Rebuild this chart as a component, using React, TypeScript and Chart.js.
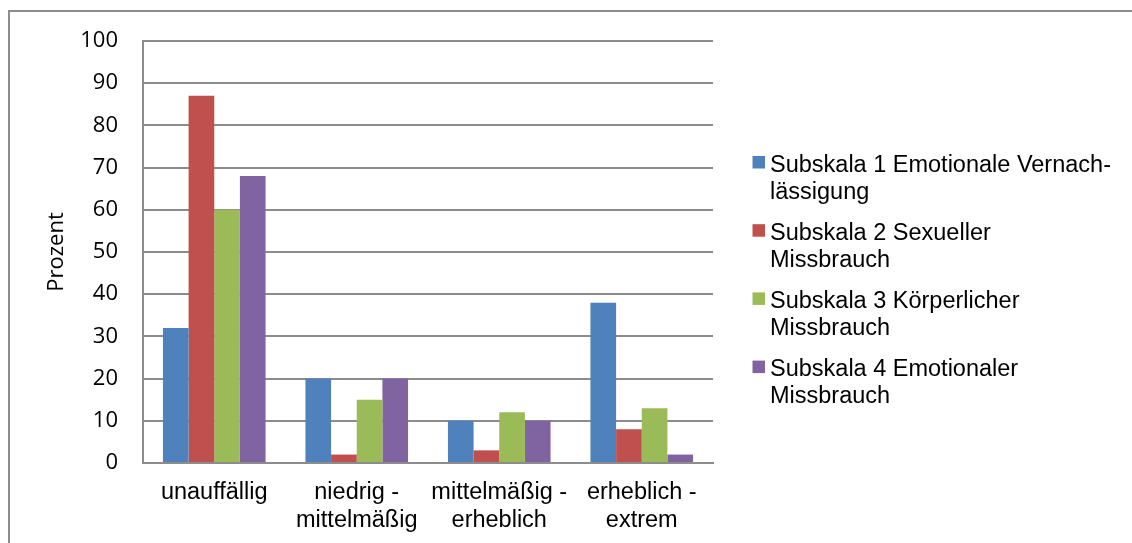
import React, { useEffect, useRef } from "react";
import { Chart, registerables } from "chart.js";

Chart.register(...registerables);

// Categories (multi-line tick labels) and series
const categories: (string | string[])[] = [
  "unauffällig",
  ["niedrig -", "mittelmäßig"],
  ["mittelmäßig -", "erheblich"],
  ["erheblich -", "extrem"],
];

const seriesNames: string[][] = [
  ["Subskala 1 Emotionale Vernach-", "lässigung"],
  ["Subskala 2 Sexueller", "Missbrauch"],
  ["Subskala 3 Körperlicher", "Missbrauch"],
  ["Subskala 4 Emotionaler", "Missbrauch"],
];

const subskala1 = [32, 20, 10, 38];
const subskala2 = [87, 2, 3, 8];
const subskala3 = [60, 15, 12, 13];
const subskala4 = [68, 20, 10, 2];

const seriesColors = ["#4F81BD", "#C0504D", "#9BBB59", "#8064A2"];

const yMin = 0;
const yMax = 100;
const yStep = 10;
const yTitle = "Prozent";

const GRAY = "#8c8c8c";
const ARIAL = '"Liberation Sans", Arial, Helvetica, sans-serif';
const NUMFONT = '"Open Sans", "Noto Sans", sans-serif';

// Frame around the whole chart
const framePlugin = {
  id: "frame",
  beforeDraw(chart: any) {
    const ctx = chart.ctx;
    ctx.save();
    ctx.fillStyle = "#ffffff";
    ctx.fillRect(0, 0, chart.width, chart.height);
    ctx.strokeStyle = GRAY;
    ctx.lineWidth = 2;
    ctx.strokeRect(9, 11, chart.width + 20, chart.height + 20);
    ctx.restore();
  },
};

// Legend on the right with two-line entries
const sideLegendPlugin = {
  id: "sideLegend",
  afterDraw(chart: any) {
    const ctx = chart.ctx;
    const area = chart.chartArea;
    const boxX = area.right + 39.5;
    const textX = area.right + 57;
    const firstBaseline = 171.5;
    const itemStep = 68.2;
    const lineStep = 27;
    ctx.save();
    ctx.font = `23.5px ${ARIAL}`;
    ctx.textBaseline = "alphabetic";
    ctx.textAlign = "left";
    chart.data.datasets.forEach((ds: any, i: number) => {
      const base = firstBaseline + i * itemStep;
      ctx.fillStyle = ds.backgroundColor;
      ctx.fillRect(boxX, base - 15.5, 12.5, 12.5);
      ctx.fillStyle = "#000000";
      String(ds.label)
        .split("\n")
        .forEach((line: string, j: number) => {
          ctx.fillText(line, textX, base + j * lineStep);
        });
    });
    ctx.restore();
  },
};

export default function App() {
  const canvasRef = useRef<HTMLCanvasElement | null>(null);

  useEffect(() => {
    if (!canvasRef.current) return;
    const values = [subskala1, subskala2, subskala3, subskala4];
    const chart = new Chart(canvasRef.current, {
      type: "bar",
      data: {
        labels: categories as any,
        datasets: values.map((v, i) => ({
          label: seriesNames[i].join("\n"),
          data: v,
          backgroundColor: seriesColors[i],
          borderWidth: 0,
          categoryPercentage: 0.72,
          barPercentage: 1.0,
        })),
      },
      options: {
        animation: false,
        responsive: false,
        devicePixelRatio: 1,
        layout: { padding: { left: 0, top: 41, right: 419, bottom: 0 } },
        plugins: {
          legend: { display: false },
          tooltip: { enabled: false },
        },
        scales: {
          x: {
            grid: { display: false, drawTicks: false },
            border: { display: true, color: GRAY, width: 2 },
            ticks: {
              color: "#000000",
              padding: 16,
              maxRotation: 0,
              autoSkip: false,
              font: { family: ARIAL, size: 23.5, lineHeight: "27.5px" as any },
            },
            afterFit(scale: any) {
              scale.height = 80;
            },
          },
          y: {
            min: yMin,
            max: yMax,
            grid: { color: GRAY, lineWidth: 2, drawTicks: false },
            border: { display: true, color: GRAY, width: 2 },
            ticks: {
              stepSize: yStep,
              color: "#000000",
              padding: 25,
              font: { family: NUMFONT, size: 22 },
            },
            title: {
              display: true,
              text: yTitle,
              color: "#000000",
              padding: { top: 44, bottom: 0 },
              font: { family: NUMFONT, size: 22 },
            },
            afterFit(scale: any) {
              scale.width = 143;
            },
          },
        },
      },
      plugins: [framePlugin, sideLegendPlugin],
    });
    return () => chart.destroy();
  }, []);

  return (
    <div style={{ position: "absolute", left: 0, top: 0, width: 1132, height: 543 }}>
      <canvas ref={canvasRef} width={1132} height={543} />
    </div>
  );
}
